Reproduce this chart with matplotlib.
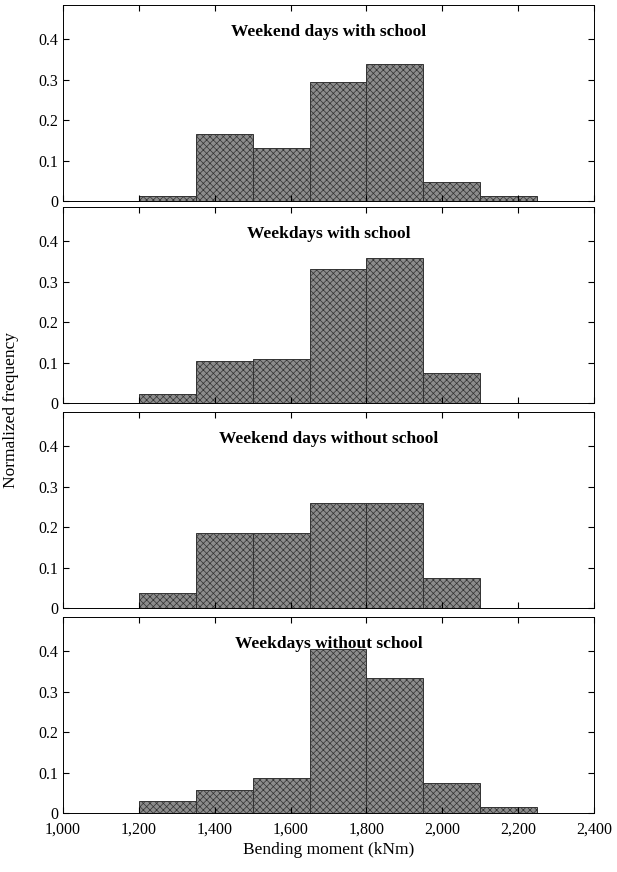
import matplotlib
matplotlib.use("Agg")
import matplotlib.pyplot as plt
import numpy as np

plt.rcParams["font.family"] = ["Liberation Serif", "DejaVu Serif"]
plt.rcParams["hatch.color"] = "#3a3a3a"
plt.rcParams["hatch.linewidth"] = 0.5

bin_edges = [1200, 1350, 1500, 1650, 1800, 1950, 2100, 2250]
titles = ["Weekend days with school", "Weekdays with school",
          "Weekend days without school", "Weekdays without school"]
freq_we_school = [0.012, 0.165, 0.130, 0.295, 0.340, 0.048, 0.012]
freq_wd_school = [0.022, 0.103, 0.108, 0.332, 0.358, 0.075, 0.0]
freq_we_noschool = [0.037, 0.185, 0.185, 0.260, 0.260, 0.073, 0.0]
freq_wd_noschool = [0.030, 0.057, 0.087, 0.405, 0.333, 0.073, 0.015]
series = [freq_we_school, freq_wd_school, freq_we_noschool, freq_wd_noschool]

fig = plt.figure(figsize=(6.17, 8.72), dpi=100)
left, right = 63 / 617, 594 / 617
tops = [5, 207, 412, 617]
h = 196
edges = np.array(bin_edges)
for i, (title, vals) in enumerate(zip(titles, series)):
    ax = fig.add_axes([left, 1 - (tops[i] + h) / 872, right - left, h / 872])
    vals = np.array(vals)
    mask = vals > 0
    ax.bar(edges[:-1][mask], vals[mask], width=np.diff(edges)[mask], align="edge",
           facecolor="#8c8c8c", edgecolor="#333333", linewidth=0.7, hatch="xxxxx")
    ax.set_xlim(1000, 2400)
    ax.set_ylim(0, 0.485)
    ax.set_yticks([0, 0.1, 0.2, 0.3, 0.4])
    ax.set_yticklabels(["0", "0.1", "0.2", "0.3", "0.4"])
    ax.set_xticks(np.arange(1000, 2401, 200))
    ax.tick_params(direction="in", top=True, right=True, labelsize=11.5, length=4)
    ax.tick_params(axis="x", pad=6)
    if i < 3:
        ax.set_xticklabels([])
    else:
        ax.set_xticklabels([f"{v:,}" for v in range(1000, 2401, 200)])
        ax.set_xlabel("Bending moment (kNm)", fontsize=12.5, labelpad=3)
    ax.text(0.5, 0.86, title, transform=ax.transAxes, ha="center", va="center",
            fontsize=12.5, fontweight="bold")
    for s in ax.spines.values():
        s.set_linewidth(0.7)

fig.text(0.018, 0.53, "Normalized frequency", rotation=90, ha="center",
         va="center", fontsize=12.5)
fig.savefig("out.png", dpi=100)
